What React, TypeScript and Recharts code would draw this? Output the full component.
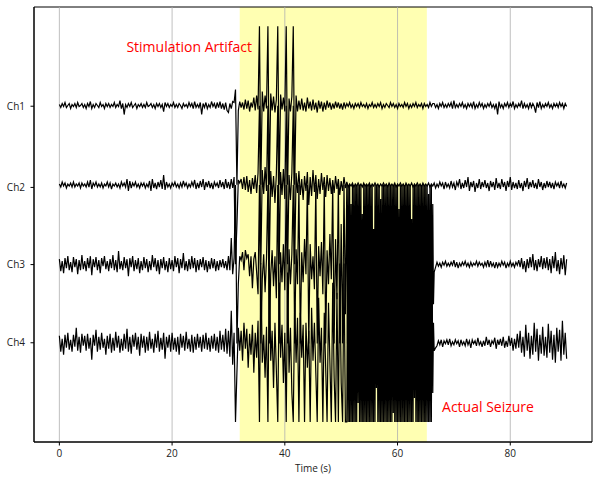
import React from "react";
import {
  LineChart,
  Line,
  XAxis,
  YAxis,
  ReferenceArea,
  ReferenceLine,
  ReferenceDot,
} from "recharts";

// channel names, vertical offsets (same units as the traces) and tick spots
const channels = ["Ch1", "Ch2", "Ch3", "Ch4"];
const offsets = [236.7, 157.4, 78.4, 0];
const channelTicks = [236, 155, 78, 0];
const xTicks = [0, 20, 40, 60, 80];
const stimWindow = [32, 65.2];

// traces are sampled every 0.25 s (the seizure part of Ch3/Ch4 every 0.125 s),
// split in 5 pieces that start at these times
const dt = 0.25;
const ictalStep = [0.25, 0.25, 0.125, 0.125];
const segStarts = [0, 30, 42, 51, 66.5];

const ch1Rest = [
  1, -2, 2, -1, 3, -2, 0, 2, -3, 1, -1, 2, -2, 3, -1, 0, 2, -2, 1, -3,
  2, -1, 4, -3, 1, -2, 2, 0, -2, 3, -1, 1, -3, 2, -1, 2, -2, 1, -1, 3,
  -2, 1, -1, 5, -3, 2, -9, 1, -2, 2, -1, 3, -2, 0, 2, -3, 1, -1, 2, -2,
  1, -2, 3, -1, 0, 2, -2, 1, -3, 2, -1, 2, -2, 1, -6, 3, -1, 2, -2, 1,
  -1, 3, -2, 1, -2, 2, 0, -3, 2, -1, 1, -2, 3, -1, 2, -3, 4, -2, 1, -2,
  3, -9, 2, -2, 3, -3, 1, -2, 4, -1, 2, -3, 3, -2, 4, -3, 2, -4, 3, -5,
];
const ch1Stim = [
  -7, 2, -3, 4, 3, 16, -79, -5,
  4, -2, 3, -4, 6, -3, 5, -6, 3, -2, 8, -5,
  10, -4, 79, -79, 14, -6, 10, -3, 79, -79, 12, -5, 9, -7, 6, 79, -79, 11,
  -4, 8, -6, 79, -79, 7, -6, 9, 79, -79,
];
const ch1Mid = [
  10, -6, 5, -4, 7, -5, 3, -6, 8, -3, 4, -5, 6, -4, 3, -7, 5, -3, 4, -6,
  3, -4, 5, -2, 3, -4, 2, -3, 4, -2, 3, -3, 2, -4, 3, -2,
];
const ch1Ictal = [
  2, -1, 3, -2, 1, -3, 2, -1, 2, -2, 3, -1, 1, -2, 2, -3, 1, -1, 3, -2,
  1, -2, 2, -1, 3, -3, 1, -2, 2, 0, -2, 3, -1, 2, -2, 1, -3, 2, -1, 1,
  -2, 3, -1, 2, -3, 1, -2, 2, -1, 3, -2, 1, -1, 2, -3, 2, -1, 1, -2, 3,
  -1, 2,
];
const ch1Post = [
  2, -2, 1, -3, 2, -1, 3, -2, 1, -2, 2, -1, 3, -3, 5, -2, 1, -2, 2, -1,
  3, -2, 1, -3, 2, -1, 2, -2, 4, -3, 1, -2, 3, -1, 2, -3, 1, -2, 2, -1,
  3, -2, 1, -3, 2, -9, 4, -2, 1, -3, 2, -1, 3, -2, 2, -1, 4, -3, 1, -2,
  2, -1, 5, -3, 2, -2, 1, -3, 3, -2, 2, -1, -7, 3, -2, 4, -3, 1, -2, 2,
  -1, 3, -2, 1, -3, 2, -1, 2, -2, 3, -1, 2, -3, 2, -1,
];

const ch2Rest = [
  1, -2, 3, -1, 2, -3, 1, -1, 2, -2, 3, -2, 1, -1, 2, -3, 2, -1, 1, -2,
  3, -2, 5, -4, 2, -1, 3, -2, 1, -2, 2, -3, 1, -1, 3, -2, 2, -4, 1, -1,
  2, -2, 1, -3, 3, -1, 2, -2, 6, -6, 4, -3, 2, -1, 3, -2, 1, -3, 2, -1,
  2, -3, 1, -2, 4, -6, 6, -3, 2, -4, 3, -2, 5, -4, 10, -5, 3, -2, 1, -3,
  2, -1, 3, -2, 1, -3, 2, -2, 4, -1, 2, -3, 1, -2, 3, -1, 5, -4, 2, -3,
  4, -2, 6, -5, 3, -2, 4, -3, 2, -4, 3, -1, 2, -3, 5, -2, 3, -4, 6, -3,
];
const ch2Stim = [
  3, -4, 6, -3, 8, -79, -40, 5,
  2, 6, -4, 8, -5, 9, -7, 5, -9, 7, -4, 10,
  -8, 12, 79, -79, 15, -9, 18, -6, 79, -79, 14, -12, 9, -18, 11, 79, -79, 13,
  -10, 16, -14, 79, -79, 10, -15, 12, 79, -79,
];
const ch2Mid = [
  12, -8, 14, -10, 6, -15, 9, -6, 13, -20, 8, -11, 15, -7, 10, -14, 6, -9, 12, -5,
  8, -12, 10, -6, 7, -9, 5, -8, 9, -4, 6, -10, 4, -6, 8, -3,
];
const ch2Ictal = [
  3, -2, 1, -1, 2, -2, 1, -1, 2, -1, 1, -2, 2, -1, 1, -1, 2, -2, 1, -1,
  2, -1, 1, -2, 1, -1, 2, -1, 1, -2, 2, -1, 1, -1, 2, -2, 1, -1, 2, -1,
  1, -2, 2, -1, 1, -1, 2, -2, 1, -1, 2, -1, 1, -2, 2, -1, 1, -1, 2, -2,
  1, -1,
];
const ch2Post = [
  2, -3, 1, -2, 3, -1, 2, -4, 3, -2, 1, -3, 4, -2, 2, -5, 3, -1, 6, -4,
  2, -3, 5, -2, 8, -6, 3, -2, 4, -7, 2, -3, 6, -4, 3, -2, 5, -3, 2, -6,
  4, -2, 3, -5, 7, -3, 2, -4, 6, -2, 3, -6, 4, -2, 8, -5, 3, -3, 2, -4,
  5, -3, 2, -6, 4, -2, 7, -4, 3, -2, 5, -3, 2, -4, 6, -2, 3, -5, 2, -3,
  4, -2, 3, -3, 2, -4, 3, -1, 2, -3, 4, -2, 1, -3, 2,
];

const ch3Rest = [
  5, -7, 3, -9, 6, -4, 8, -6, 2, -8, 7, -3, 5, -10, 4, -6, 9, -5, 3, -7,
  6, -4, 8, -11, 5, -3, 7, -6, 4, -9, 6, -2, 8, -5, 3, -7, 5, -4, 9, -6,
  4, -8, 13, -5, 3, -6, 7, -4, 5, -12, 6, -3, 8, -7, 4, -5, 6, -9, 3, -6,
  7, -4, 5, -8, 3, -6, 9, -3, 6, -7, 4, -10, 5, -4, 7, -6, 3, -8, 6, -5,
  4, -7, 8, -3, 6, -9, 5, -4, 11, -6, 3, -7, 5, -5, 8, -4, 6, -8, 4, -6,
  5, -3, 7, -6, 4, -8, 3, -5, 6, -4, 5, -7, 3, -6, 4, -3, 5, -4, 3, -6,
];
const ch3Stim = [
  8, -6, 26, -10, 6, 79, -79, -20,
  8, 4, 12, -6, 14, 6, 10, -12, 8, -24, 5, 12,
  -8, -30, 79, -79, -15, 10, -28, 6, 79, -79, -10, 14, -22, 8, -34, 79, -79, 12,
  -18, 20, -26, 79, -79, 15, -20, 10, 79, -79,
];
const ch3Mid = [
  15, -20, 79, -79, 12, -18, 25, -10, 79, -79, 20, -15, 8, -25, 79, -79, 18, -12, 22, -30,
  79, -79, 14, -20, 30, -15, 79, -79, 25, -35, 79, -79, 40, -79, 79, -50,
];
const ch3Ictal = [
  79, -79, 79, -79, 79, -79, 60, -79, 79, -79, 79, -79, 79, -40, 79, -79, 79, -79, 79, -79,
  79, -79, 50, -79, 79, -79, 79, -79, 79, -79, 79, -60, 79, -79, 79, -79, 79, -79, 35, -79,
  79, -79, 79, -79, 79, -79, 79, -79, 65, -79, 79, -79, 79, -79, 79, -50, 79, -79, 79, -79,
  79, -79, 79, -79, 79, -30, 79, -79, 79, -79, 79, -79, 79, -79, 55, -79, 79, -79, 79, -79,
  79, -79, 79, -65, 79, -79, 79, -79, 79, -79, 79, -79, 45, -79, 79, -79, 79, -79, 79, -79,
  79, -79, 79, -79, 79, -79, 79, -55, 79, -79, 79, -79, 79, -79, 79, -79, 70, -79, 79, -79,
  79, -79, 60, -40,
];
const ch3Post = [
  -8, -3, 2, -2, 1, -3, 2, -1, 3, -2, 1, -2, 2, -1, 4, -3, 2, -4, 1, -2,
  2, -1, 3, -2, 1, -3, 2, -2, 1, -1, 3, -2, 2, -1, 1, -3, 2, -2, 4, -3,
  3, -2, 1, -4, 2, -3, 1, -2, 3, -1, 2, -4, 1, -2, 3, -2, 1, -3, 2, -1,
  4, -3, 6, -5, 3, -8, 5, -4, 7, -3, 10, -6, 4, -7, 5, -3, 8, -5, 6, -4,
  7, -6, 5, -9, 8, -4, 12, -7, 4, -10, 6, -5, 9, -11, 5,
];

const ch4Rest = [
  7, -9, 4, -12, 8, -5, 10, -7, 3, -9, 8, -4, 15, -8, 6, -10, 9, -3, 7, -8,
  9, -6, 5, -17, 8, -3, 13, -9, 6, -7, 10, -5, 4, -12, 7, -6, 9, -10, 5, -8,
  11, -5, 7, -10, 4, -8, 9, -6, 14, -9, 6, -11, 8, -4, 10, -7, 6, -13, 9, -5,
  7, -10, 6, -8, 11, -6, 4, -10, 9, -5, 12, -9, 5, -7, 10, -16, 6, -5, 8, -9,
  10, -7, 5, -9, 6, -12, 9, -5, 7, -8, 11, -6, 4, -9, 8, -10, 6, -7, 9, -5,
  6, -9, 8, -6, 10, -7, 5, -9, 7, -6, 9, -8, 6, -10, 12, -7, 8, -9, 14, -11,
];
const ch4Stim = [
  12, -14, 32, -22, 10, -79, -30, 15,
  -8, 12, -18, 20, -6, 14, -25, 9, -12, 18, -30, 10,
  -15, 22, -79, 79, -20, 8, -35, 16, -79, 79, -18, 12, -45, 20, -28, -79, 60, -15,
  18, -40, 10, -79, 70, -30, 15, -50, -79, 40,
];
const ch4Mid = [
  -20, 25, -79, 30, -15, 18, -79, 20, -25, 12, -79, 35, -18, 20, -30, -79, 45, -20, 15, -79,
  30, -25, -79, 40, -20, -79, 60, -35, -79, 50, -79, 79, -40, -79, 79, -79,
];
const ch4Ictal = [
  -79, 79, -79, 79, -79, 79, -79, 50, -79, 79, -79, 79, -79, 79, -79, 79, -60, 79, -79, 79,
  -79, 79, -79, 79, -79, 40, -79, 79, -79, 79, -79, 79, -79, 79, -79, 79, -79, 65, -79, 79,
  -79, 79, -45, 79, -79, 79, -79, 79, -79, 79, -79, 79, -79, 55, -79, 79, -79, 79, -79, 79,
  -79, 79, -79, 79, -79, 79, -70, 79, -79, 79, -79, 79, -79, 79, -79, 79, -79, 79, -79, 30,
  -79, 79, -79, 79, -79, 79, -79, 79, -79, 60, -79, 79, -79, 79, -79, 79, -55, 79, -79, 79,
  -79, 79, -79, 79, -79, 79, -79, 79, -79, 79, -79, 45, -79, 79, -79, 79, -79, 79, -79, 79,
  -79, 79, -50, 20,
];
const ch4Post = [
  -8, -5, -3, 2, -2, 3, -4, 2, -1, 3, -2, 4, -3, 1, -2, 3, -1, 2, -4, 3,
  -2, 1, -3, 4, -2, 2, -5, 3, -1, 2, -3, 5, -2, 1, -4, 2, -3, 6, -2, 3,
  -4, 2, -1, 5, -6, 3, -2, 4, -3, 6, -5, 2, -4, 7, -3, 5, -8, 4, -6, 9,
  -5, 12, -10, 6, -14, 18, -8, 10, -16, 7, -12, 20, -9, 14, -18, 8, -11, 16, -13, 6,
  -15, 19, -10, 12, -17, 8, -20, 15, -9, 13, -18, 22, -12, 10, -16,
];

const channelSegments = [
  [ch1Rest, ch1Stim, ch1Mid, ch1Ictal, ch1Post],
  [ch2Rest, ch2Stim, ch2Mid, ch2Ictal, ch2Post],
  [ch3Rest, ch3Stim, ch3Mid, ch3Ictal, ch3Post],
  [ch4Rest, ch4Stim, ch4Mid, ch4Ictal, ch4Post],
];

function toPoints(segs: number[][], ch: number) {
  const pts: { t: number; v: number }[] = [];
  segs.forEach((vals, k) => {
    const step = k === 3 ? ictalStep[ch] : dt;
    vals.forEach((v, j) =>
      pts.push({ t: segStarts[k] + j * step, v: offsets[ch] + v })
    );
  });
  return pts;
}

const series = channelSegments.map((segs, i) => toPoints(segs, i));

const font = "'Open Sans', 'DejaVu Sans', sans-serif";
const xDomain: [number, number] = [-4.5, 94.5];
const yDomain: [number, number] = [-99, 335];

export default function App() {
  return (
    <div style={{ position: "absolute", left: 0, top: 0, background: "#fff" }}>
      <LineChart
        width={599}
        height={480}
        margin={{ top: 7, right: 7, bottom: 0, left: 0 }}
      >
        <XAxis
          type="number"
          dataKey="t"
          domain={xDomain}
          ticks={xTicks}
          allowDataOverflow
          height={38}
          tickSize={3.5}
          tickMargin={4.5}
          axisLine={{ stroke: "#000" }}
          tickLine={{ stroke: "#000" }}
          tick={{ fontSize: 10, fill: "#222", fontFamily: font }}
          label={{
            value: "Time (s)",
            position: "insideBottom",
            offset: 8,
            fontSize: 10,
            fill: "#222",
            fontFamily: font,
          }}
        />
        <YAxis
          type="number"
          domain={yDomain}
          ticks={channelTicks}
          allowDataOverflow
          width={34}
          tickSize={3.5}
          tickMargin={5.5}
          axisLine={{ stroke: "#000" }}
          tickLine={{ stroke: "#000" }}
          tick={{ fontSize: 10, fill: "#222", fontFamily: font }}
          tickFormatter={(v: number) => channels[channelTicks.indexOf(v)] ?? ""}
        />
        <ReferenceArea
          x1={stimWindow[0]}
          x2={stimWindow[1]}
          fill="#ffff00"
          fillOpacity={0.3}
          stroke="none"
        />
        {xTicks.map((x) => (
          <ReferenceLine key={x} x={x} stroke="#b0b0b0" strokeWidth={0.8} />
        ))}
        {series.map((pts, i) => (
          <Line
            key={channels[i]}
            name={channels[i]}
            data={pts}
            dataKey="v"
            type="linear"
            stroke="#000"
            strokeWidth={1.2}
            dot={false}
            activeDot={false}
            isAnimationActive={false}
          />
        ))}
        <ReferenceDot
          x={11.9}
          y={294.6}
          r={0}
          fill="none"
          stroke="none"
          label={{
            value: "Stimulation Artifact",
            position: "right",
            offset: 0,
            fill: "#ff0000",
            fontSize: 14,
            fontFamily: font,
          }}
        />
        <ReferenceDot
          x={67.9}
          y={-64.4}
          r={0}
          fill="none"
          stroke="none"
          label={{
            value: "Actual Seizure",
            position: "right",
            offset: 0,
            fill: "#ff0000",
            fontSize: 14,
            fontFamily: font,
          }}
        />
        {/* plot frame */}
        <ReferenceArea
          x1={xDomain[0]}
          x2={xDomain[1]}
          y1={yDomain[0]}
          y2={yDomain[1]}
          fill="none"
          stroke="#000"
          strokeWidth={1}
        />
      </LineChart>
    </div>
  );
}
